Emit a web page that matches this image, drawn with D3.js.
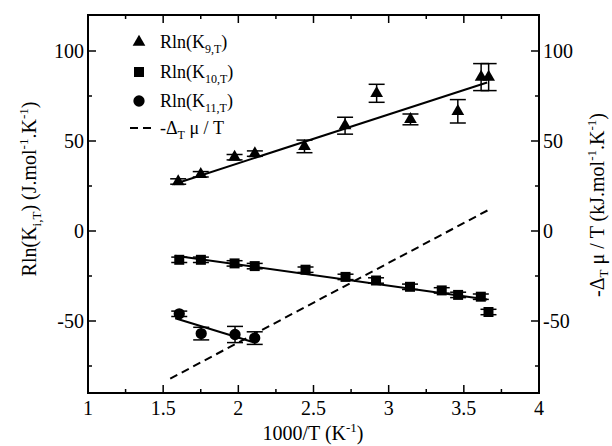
<!DOCTYPE html>
<html>
<head>
<meta charset="utf-8">
<script src="https://cdn.jsdelivr.net/npm/d3@7"></script>
<style>
  html, body { margin: 0; padding: 0; background: #fff; }
  svg { display: block; }
  svg text { font-family: "Liberation Serif", "DejaVu Serif", serif; }
</style>
</head>
<body>
<svg id="chart" width="612" height="446"></svg>
<script>
// ---- data --------------------------------------------------------------
var k9X   = [1.60, 1.75, 1.975, 2.11, 2.44, 2.71, 2.92, 3.145, 3.46, 3.615, 3.665];
var k9Y   = [27.5, 31.5, 41, 43, 47, 58.5, 76.5, 62, 66.5, 85.5, 85.5];
var k9Err = [1.5, 1.5, 1.5, 1.5, 3.5, 4.7, 5, 3, 6.5, 7.5, 7.5];

var k10X   = [1.607, 1.751, 1.975, 2.109, 2.447, 2.713, 2.916, 3.142, 3.353, 3.462, 3.613, 3.664];
var k10Y   = [-16, -16, -18, -19.5, -21.5, -25.5, -27.5, -31, -33, -35.5, -36.5, -45];
var k10Err = [1.5, 1.5, 1.5, 1.5, 1.5, 1.5, 1.5, 1.5, 1.5, 1.5, 1.5, 1.5];

var k11X   = [1.607, 1.753, 1.978, 2.109];
var k11Y   = [-46, -57, -57.5, -59.5];
var k11Err = [1.5, 3.5, 4.5, 3.5];

// fitted lines (end points) and the -Δμ/T curve
var fit9  = [[1.57, 26], [3.655, 82.5]];
var fit10 = [[1.58, -13.7], [3.655, -38]];
var fit11 = [[1.58, -48.5], [2.09, -61.5]];
var dmu   = [[1.547, -82], [3.664, 11.7]];

var xMajor = [1, 1.5, 2, 2.5, 3, 3.5, 4];
var xMinor = [1.25, 1.75, 2.25, 2.75, 3.25, 3.75];
var yMajor = [-50, 0, 50, 100];
var yMinor = [-75, -25, 25, 75];

// ---- layout --------------------------------------------------------------
var svg = d3.select('#chart');
var m = { left: 88, right: 539, top: 15, bottom: 393 };
var x = d3.scaleLinear().domain([1, 4]).range([m.left, m.right]);
var y = d3.scaleLinear().domain([-90, 120]).range([m.bottom, m.top]);

var g = svg.append('g');

// ticks (inward, on all four sides)
function tickMarks(vals, len) {
  vals.forEach(function (v) {
    g.append('line').attr('x1', x(v)).attr('x2', x(v)).attr('y1', m.bottom).attr('y2', m.bottom - len)
      .attr('stroke', '#000').attr('stroke-width', 1.5);
    g.append('line').attr('x1', x(v)).attr('x2', x(v)).attr('y1', m.top).attr('y2', m.top + len)
      .attr('stroke', '#000').attr('stroke-width', 1.5);
  });
}
function yTickMarks(vals, len) {
  vals.forEach(function (v) {
    g.append('line').attr('x1', m.left).attr('x2', m.left + len).attr('y1', y(v)).attr('y2', y(v))
      .attr('stroke', '#000').attr('stroke-width', 1.5);
    g.append('line').attr('x1', m.right).attr('x2', m.right - len).attr('y1', y(v)).attr('y2', y(v))
      .attr('stroke', '#000').attr('stroke-width', 1.5);
  });
}
tickMarks(xMajor, 8); tickMarks(xMinor, 4);
yTickMarks(yMajor, 8); yTickMarks(yMinor, 4);

g.append('rect').attr('x', m.left).attr('y', m.top)
  .attr('width', m.right - m.left).attr('height', m.bottom - m.top)
  .attr('fill', 'none').attr('stroke', '#000').attr('stroke-width', 2);

// tick labels
xMajor.forEach(function (v) {
  g.append('text').attr('x', x(v)).attr('y', m.bottom + 22).attr('text-anchor', 'middle')
    .attr('font-size', 20).text(v);
});
yMajor.forEach(function (v) {
  g.append('text').attr('x', m.left - 4).attr('y', y(v) + 7).attr('text-anchor', 'end')
    .attr('font-size', 20).text(v);
  g.append('text').attr('x', m.right + 4).attr('y', y(v) + 7).attr('text-anchor', 'start')
    .attr('font-size', 20).text(v);
});

// ---- lines ---------------------------------------------------------------
var line = d3.line().x(function (d) { return x(d[0]); }).y(function (d) { return y(d[1]); });
[fit9, fit10, fit11].forEach(function (f) {
  g.append('path').attr('d', line(f)).attr('fill', 'none').attr('stroke', '#000').attr('stroke-width', 2);
});
g.append('path').attr('d', line(dmu)).attr('fill', 'none').attr('stroke', '#000')
  .attr('stroke-width', 2).attr('stroke-dasharray', '8 5');

// ---- error bars + markers --------------------------------------------------
function errBars(xs, ys, es) {
  xs.forEach(function (xv, i) {
    var x0 = x(xv), y1 = y(ys[i] + es[i]), y2 = y(ys[i] - es[i]);
    g.append('line').attr('x1', x0).attr('x2', x0).attr('y1', y1).attr('y2', y2)
      .attr('stroke', '#000').attr('stroke-width', 1.5);
    [y1, y2].forEach(function (yy) {
      g.append('line').attr('x1', x0 - 8).attr('x2', x0 + 8).attr('y1', yy).attr('y2', yy)
        .attr('stroke', '#000').attr('stroke-width', 1.5);
    });
  });
}
errBars(k9X, k9Y, k9Err);
errBars(k10X, k10Y, k10Err);
errBars(k11X, k11Y, k11Err);

var triPath = d3.symbol().type(d3.symbolTriangle).size(70);
var sqPath = d3.symbol().type(d3.symbolSquare).size(100);
var cirPath = d3.symbol().type(d3.symbolCircle).size(100);

function markers(xs, ys, sym) {
  xs.forEach(function (xv, i) {
    g.append('path').attr('d', sym()).attr('fill', '#000')
      .attr('transform', 'translate(' + x(xv) + ',' + y(ys[i]) + ')');
  });
}
markers(k9X, k9Y, triPath);
markers(k10X, k10Y, sqPath);
markers(k11X, k11Y, cirPath);

// ---- legend --------------------------------------------------------------
var legend = [
  { sym: triPath, sub: '9,T', y: 42 },
  { sym: sqPath, sub: '10,T', y: 72 },
  { sym: cirPath, sub: '11,T', y: 101 }
];
legend.forEach(function (d) {
  g.append('path').attr('d', d.sym()).attr('fill', '#000')
    .attr('transform', 'translate(139,' + d.y + ')');
  var t = g.append('text').attr('x', 160).attr('y', d.y + 6).attr('font-size', 18);
  t.append('tspan').text('Rln(K');
  t.append('tspan').attr('font-size', 12).attr('dy', 5).text(d.sub);
  t.append('tspan').attr('dy', -5).text(')');
});
g.append('line').attr('x1', 130).attr('x2', 153).attr('y1', 128).attr('y2', 128)
  .attr('stroke', '#000').attr('stroke-width', 2).attr('stroke-dasharray', '8 5');
var tl = g.append('text').attr('x', 160).attr('y', 134).attr('font-size', 18);
tl.append('tspan').text('-Δ');
tl.append('tspan').attr('font-size', 12).attr('dy', 5).text('T');
tl.append('tspan').attr('dy', -5).text(' μ / T');

// ---- axis titles -----------------------------------------------------------
var xt = g.append('text').attr('x', 313).attr('y', 440).attr('text-anchor', 'middle').attr('font-size', 20);
xt.append('tspan').text('1000/T (K');
xt.append('tspan').attr('font-size', 13).attr('dy', -8).text('-1');
xt.append('tspan').attr('dy', 8).text(')');

var yl = g.append('text').attr('transform', 'translate(36,189) rotate(-90)')
  .attr('text-anchor', 'middle').attr('font-size', 20);
yl.append('tspan').text('Rln(K');
yl.append('tspan').attr('font-size', 13).attr('dy', 5).text('i,T');
yl.append('tspan').attr('dy', -5).text(') (J.mol');
yl.append('tspan').attr('font-size', 13).attr('dy', -8).text('-1');
yl.append('tspan').attr('dy', 8).text('.K');
yl.append('tspan').attr('font-size', 13).attr('dy', -8).text('-1');
yl.append('tspan').attr('dy', 8).text(')');

var yr = g.append('text').attr('transform', 'translate(604,205) rotate(-90)')
  .attr('text-anchor', 'middle').attr('font-size', 20);
yr.append('tspan').text('-Δ');
yr.append('tspan').attr('font-size', 13).attr('dy', 4).text('T');
yr.append('tspan').attr('dy', -4).text(' μ / T (kJ.mol');
yr.append('tspan').attr('font-size', 13).attr('dy', -8).text('-1');
yr.append('tspan').attr('dy', 8).text('.K');
yr.append('tspan').attr('font-size', 13).attr('dy', -8).text('-1');
yr.append('tspan').attr('dy', 8).text(')');
</script>
</body>
</html>
